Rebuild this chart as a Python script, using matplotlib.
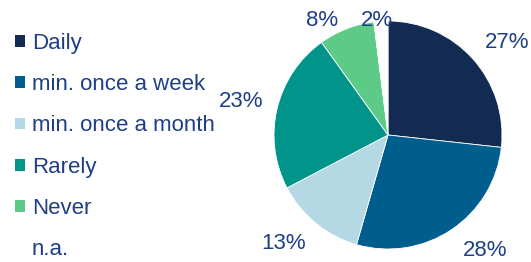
import matplotlib
matplotlib.use("Agg")
import matplotlib.pyplot as plt
import numpy as np

categories = ["Daily", "min. once a week", "min. once a month", "Rarely", "Never", "n.a."]
values = [27, 28, 13, 23, 8, 2]
pct_labels = ["27%", "28%", "13%", "23%", "8%", "2%"]

colors = ["#132B52", "#005E8E", "#B4D9E4", "#00948A", "#5DCA88", "#FFFFFF"]
text_color = "#1E3F86"
# label placement (radius in pie units, angle in degrees)
label_pos = [(1.325, 38.0), (1.32, -49.9), (1.315, -133.9), (1.32, 167.3), (1.16, 120.0), (1.01, 95.7)]

plt.rcParams['font.family'] = ['Liberation Sans', 'DejaVu Sans']

W, H = 531, 262
fig = plt.figure(figsize=(W / 100, H / 100), dpi=100)
ax = fig.add_axes([0, 0, 1, 1])

cx, cy, r = 388, 127, 114  # pixel centre (from bottom) and radius
wedges, _ = ax.pie(values, colors=colors, startangle=90, counterclock=False,
                   radius=1, wedgeprops=dict(linewidth=0.6, edgecolor="white"))

for (d, a), lab in zip(label_pos, pct_labels):
    t = np.deg2rad(a)
    ax.text(d * np.cos(t), d * np.sin(t), lab, ha="center", va="center",
            fontsize=16, color=text_color)

ax.set_xlim(-cx / r, (W - cx) / r)
ax.set_ylim(-cy / r, (H - cy) / r)
ax.set_aspect("auto")
ax.axis("off")

leg = fig.legend(wedges, categories, loc="upper left",
                 bbox_to_anchor=(15 / W, 1 - 33 / H), frameon=False,
                 fontsize=16, labelcolor=text_color,
                 handlelength=0.45, handleheight=0.45, handletextpad=0.3,
                 labelspacing=0.91, borderpad=0, borderaxespad=0)
for h in leg.legend_handles:
    h.set_edgecolor("none")

fig.savefig("out.png", dpi=100)
